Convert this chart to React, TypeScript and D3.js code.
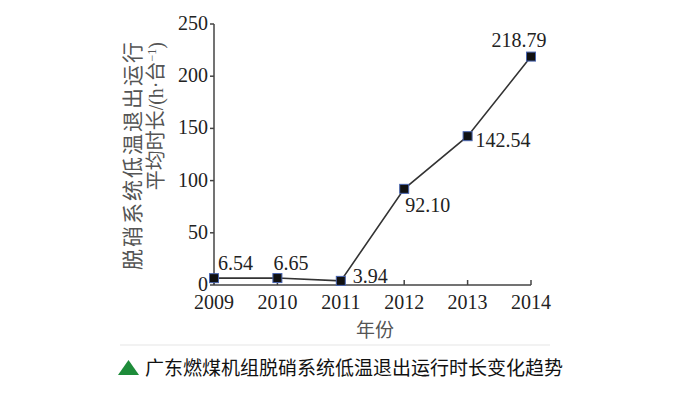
import * as d3 from "d3";

const years = [2009, 2010, 2011, 2012, 2013, 2014];
const hours = [6.54, 6.65, 3.94, 92.1, 142.54, 218.79];
const pointYears = [2009, 2010, 2011, 2012, 2013, 2014];
const yTicks = [0, 50, 100, 150, 200, 250];
const valueLabels = ["6.54", "6.65", "3.94", "92.10", "142.54", "218.79"];

const serif = "'Liberation Serif', 'DejaVu Serif', serif";
const cjk = "'Noto Sans CJK SC', 'Noto Sans', sans-serif";

export default function App() {
  const width = 700;
  const height = 399;

  const x = d3.scaleLinear().domain([2009, 2014]).range([214, 531]);
  const y = d3.scaleLinear().domain([0, 250]).range([285, 24]);

  const line = d3
    .line<number>()
    .x((_, i) => x(pointYears[i]))
    .y(d => y(d));

  // label placement around each point
  const labelPos = [
    { dx: 4, dy: -8, anchor: "start" },
    { dx: -4, dy: -8, anchor: "start" },
    { dx: 12, dy: 2, anchor: "start" },
    { dx: 1, dy: 23, anchor: "start" },
    { dx: 8, dy: 11, anchor: "start" },
    { dx: -12, dy: -10, anchor: "middle" },
  ];

  return (
    <svg
      width={width}
      height={height}
      style={{ position: "absolute", left: 0, top: 0, background: "#fff" }}
    >
      {/* y axis title, two rotated lines */}
      <g fill="#555" fontFamily={cjk}>
        <text transform="translate(140,42) rotate(-90)" textAnchor="end" fontSize={21} textLength={228}>
          脱硝系统低温退出运行
        </text>
        <text transform="translate(163,42) rotate(-90)" textAnchor="end" fontSize={20}>
          平均时长
          <tspan fontFamily={serif}>/(h·</tspan>
          台
          <tspan fontFamily={serif}>
            <tspan fontSize={12} dy={-7}>−1</tspan>
            <tspan dy={7}>)</tspan>
          </tspan>
        </text>
      </g>

      {/* y axis */}
      <line x1={x(2009)} x2={x(2009)} y1={y(250)} y2={y(0)} stroke="#444" strokeWidth={1.5} />
      {yTicks.map(t => (
        <g key={t}>
          <line x1={x(2009) - 4} x2={x(2009)} y1={y(t)} y2={y(t)} stroke="#444" strokeWidth={1.5} />
          <text
            x={x(2009) - 6}
            y={y(t) + 6}
            textAnchor="end"
            fontSize={20}
            fontFamily={serif}
            fill="#222"
          >
            {t}
          </text>
        </g>
      ))}

      {/* x axis */}
      <line x1={x(2009)} x2={x(2014)} y1={y(0)} y2={y(0)} stroke="#444" strokeWidth={1.5} />
      {years.map(yr => (
        <g key={yr}>
          <line x1={x(yr)} x2={x(yr)} y1={y(0) - 5} y2={y(0)} stroke="#444" strokeWidth={1.5} />
          <text
            x={x(yr)}
            y={y(0) + 24}
            textAnchor="middle"
            fontSize={20}
            fontFamily={serif}
            fill="#222"
          >
            {yr}
          </text>
        </g>
      ))}
      <text x={375} y={337} textAnchor="middle" fontSize={19} fontFamily={cjk} fill="#555">
        年份
      </text>

      {/* data line */}
      <path d={line(hours) ?? ""} fill="none" stroke="#333" strokeWidth={1.6} />
      {hours.map((v, i) => (
        <rect
          key={i}
          x={x(pointYears[i]) - 4.5}
          y={y(v) - 4.5}
          width={9}
          height={9}
          fill="#111"
          stroke="#4a66b0"
          strokeWidth={1}
        />
      ))}
      {hours.map((v, i) => (
        <text
          key={i}
          x={x(pointYears[i]) + labelPos[i].dx}
          y={y(v) + labelPos[i].dy}
          textAnchor={labelPos[i].anchor}
          fontSize={20}
          fontFamily={serif}
          fill="#222"
        >
          {valueLabels[i]}
        </text>
      ))}

      {/* separator and caption */}
      <line x1={120} x2={550} y1={345} y2={345} stroke="#eee" strokeWidth={1.5} />
      <path d="M118,375 L128.5,360 L139,375 Z" fill="#1e8c3a" />
      <text x={145} y={375} fontSize={19} fontFamily={cjk} fill="#111">
        广东燃煤机组脱硝系统低温退出运行时长变化趋势
      </text>
    </svg>
  );
}
